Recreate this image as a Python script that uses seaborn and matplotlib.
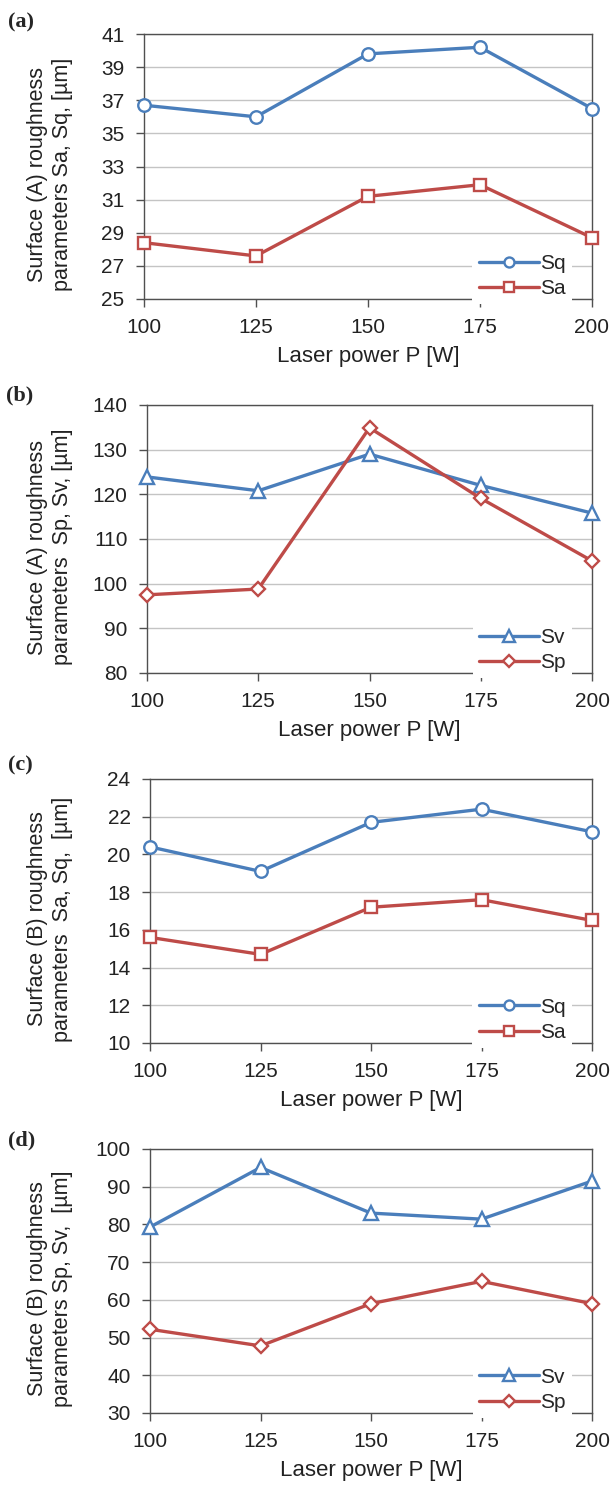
import matplotlib
matplotlib.use("Agg")
import matplotlib.pyplot as plt
import seaborn as sns
import pandas as pd

sns.set_style("white")
plt.rcParams['font.family'] = ['Liberation Sans', 'DejaVu Sans']

# ---- data ----
power = [100, 125, 150, 175, 200]

a_sq = [36.7, 36.0, 39.8, 40.2, 36.5]
a_sa = [28.4, 27.6, 31.2, 31.9, 28.7]

b_sv = [123.9, 120.8, 129.0, 122.0, 115.8]
b_sp = [97.5, 98.8, 134.9, 119.1, 105.1]

c_sq = [20.4, 19.1, 21.7, 22.4, 21.2]
c_sa = [15.6, 14.7, 17.2, 17.6, 16.5]

d_sv = [79.3, 95.1, 83.0, 81.4, 91.5]
d_sp = [52.2, 47.8, 59.0, 64.9, 59.0]

panel_labels = ["(a)", "(b)", "(c)", "(d)"]
ylabels = [
    "Surface (A) roughness\nparameters Sa, Sq, [µm]",
    "Surface (A) roughness\nparameters  Sp, Sv, [µm]",
    "Surface (B) roughness\nparameters  Sa, Sq,  [µm]",
    "Surface (B) roughness\nparameters Sp, Sv,  [µm]",
]
xlabel = "Laser power P [W]"
yticks_list = [
    [25, 27, 29, 31, 33, 35, 37, 39, 41],
    [80, 90, 100, 110, 120, 130, 140],
    [10, 12, 14, 16, 18, 20, 22, 24],
    [30, 40, 50, 60, 70, 80, 90, 100],
]
series = [
    [("Sq", a_sq, "o", 9), ("Sa", a_sa, "s", 9)],
    [("Sv", b_sv, "^", 10), ("Sp", b_sp, "D", 7.5)],
    [("Sq", c_sq, "o", 9), ("Sa", c_sa, "s", 9)],
    [("Sv", d_sv, "^", 10), ("Sp", d_sp, "D", 7.5)],
]
colors = ["#4a7ebb", "#be4b48"]

W, H = 612, 1485
fig = plt.figure(figsize=(W / 100, H / 100), dpi=100)

# axes boxes in pixels: left, right, top, bottom
boxes = [(144, 592, 34, 299), (147, 592, 405, 673), (150, 592, 779, 1043), (150, 592, 1149, 1413)]
label_pos = [(8, 22), (6, 395), (8, 765), (8, 1140)]

for i in range(4):
    l, r, t, b = boxes[i]
    ax = fig.add_axes([l / W, 1 - b / H, (r - l) / W, (b - t) / H])
    for (name, vals, mk, ms), col in zip(series[i], colors):
        df = pd.DataFrame({"P": power, "v": vals})
        sns.lineplot(data=df, x="P", y="v", ax=ax, color=col, lw=2.4,
                     marker=mk, markersize=ms, markerfacecolor="white",
                     markeredgecolor=col, markeredgewidth=1.7,
                     label=name, clip_on=False, zorder=3)
    yt = yticks_list[i]
    ax.set_xlim(100, 200)
    ax.set_ylim(yt[0], yt[-1])
    ax.set_xticks(power)
    ax.set_yticks(yt)
    ax.yaxis.grid(True, color="#c4c4c4", lw=1.0)
    ax.xaxis.grid(False)
    ax.set_axisbelow(True)
    for s in ax.spines.values():
        s.set_color("#505050")
        s.set_linewidth(1.0)
    ax.tick_params(axis="both", which="major", direction="out", length=6, width=1,
                   bottom=True, left=True, top=False, right=False,
                   color="#505050", labelsize=15, labelcolor="#222222", pad=8)
    ax.set_xlabel(xlabel, fontsize=16, color="#222222", labelpad=6)
    ax.set_ylabel(ylabels[i], fontsize=15.5, color="#222222", linespacing=1.25)
    ax.yaxis.set_label_coords((73 - l) / (r - l), 0.47)
    leg = ax.legend(loc="lower right", bbox_to_anchor=((572 - l) / (r - l), -0.02),
                    frameon=True, fontsize=15, handlelength=2.9, markerscale=0.8,
                    handletextpad=0.05, labelspacing=0.3, borderpad=0.3,
                    borderaxespad=0)
    leg.get_frame().set_facecolor("white")
    leg.get_frame().set_edgecolor("none")
    leg.get_frame().set_alpha(1.0)
    px, py = label_pos[i]
    fig.text(px / W, 1 - py / H, panel_labels[i], fontsize=16, fontweight="bold",
             family="Liberation Serif", ha="left", va="center")

fig.savefig("out.png", dpi=100)
